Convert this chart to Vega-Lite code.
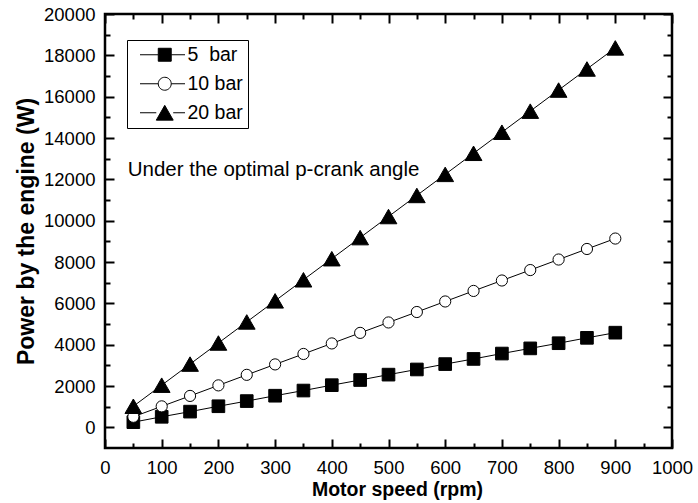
{
  "$schema": "https://vega.github.io/schema/vega-lite/v6.json",
  "width": 567,
  "height": 434,
  "autosize": {"type": "none"},
  "padding": {"left": 105, "top": 14, "right": 26, "bottom": 55},
  "background": "white",
  "config": {
    "view": {"stroke": "black", "strokeWidth": 2.5},
    "font": "Liberation Sans",
    "axis": {
      "grid": false,
      "domain": false,
      "tickColor": "black",
      "tickWidth": 2,
      "labelColor": "black",
      "labelFont": "Liberation Sans",
      "labelFontSize": 18.5,
      "labelFlush": false,
      "labelOverlap": false,
      "titleFont": "Liberation Sans",
      "titleFontSize": 19.5,
      "titleFontWeight": "bold",
      "titleColor": "black"
    }
  },
  "data": {
    "values": [
      {"rpm": 50, "p": "5 bar", "w": 250}, {"rpm": 100, "p": "5 bar", "w": 510}, {"rpm": 150, "p": "5 bar", "w": 760},
      {"rpm": 200, "p": "5 bar", "w": 1020}, {"rpm": 250, "p": "5 bar", "w": 1270}, {"rpm": 300, "p": "5 bar", "w": 1530},
      {"rpm": 350, "p": "5 bar", "w": 1780}, {"rpm": 400, "p": "5 bar", "w": 2040}, {"rpm": 450, "p": "5 bar", "w": 2290},
      {"rpm": 500, "p": "5 bar", "w": 2550}, {"rpm": 550, "p": "5 bar", "w": 2800}, {"rpm": 600, "p": "5 bar", "w": 3060},
      {"rpm": 650, "p": "5 bar", "w": 3310}, {"rpm": 700, "p": "5 bar", "w": 3570}, {"rpm": 750, "p": "5 bar", "w": 3820},
      {"rpm": 800, "p": "5 bar", "w": 4070}, {"rpm": 850, "p": "5 bar", "w": 4330}, {"rpm": 900, "p": "5 bar", "w": 4580},
      {"rpm": 50, "p": "10 bar", "w": 510}, {"rpm": 100, "p": "10 bar", "w": 1015}, {"rpm": 150, "p": "10 bar", "w": 1520},
      {"rpm": 200, "p": "10 bar", "w": 2030}, {"rpm": 250, "p": "10 bar", "w": 2540}, {"rpm": 300, "p": "10 bar", "w": 3045},
      {"rpm": 350, "p": "10 bar", "w": 3550}, {"rpm": 400, "p": "10 bar", "w": 4060}, {"rpm": 450, "p": "10 bar", "w": 4570},
      {"rpm": 500, "p": "10 bar", "w": 5075}, {"rpm": 550, "p": "10 bar", "w": 5580}, {"rpm": 600, "p": "10 bar", "w": 6090},
      {"rpm": 650, "p": "10 bar", "w": 6600}, {"rpm": 700, "p": "10 bar", "w": 7105}, {"rpm": 750, "p": "10 bar", "w": 7610},
      {"rpm": 800, "p": "10 bar", "w": 8120}, {"rpm": 850, "p": "10 bar", "w": 8630}, {"rpm": 900, "p": "10 bar", "w": 9135},
      {"rpm": 50, "p": "20 bar", "w": 1020}, {"rpm": 100, "p": "20 bar", "w": 2040}, {"rpm": 150, "p": "20 bar", "w": 3060},
      {"rpm": 200, "p": "20 bar", "w": 4080}, {"rpm": 250, "p": "20 bar", "w": 5100}, {"rpm": 300, "p": "20 bar", "w": 6120},
      {"rpm": 350, "p": "20 bar", "w": 7140}, {"rpm": 400, "p": "20 bar", "w": 8160}, {"rpm": 450, "p": "20 bar", "w": 9180},
      {"rpm": 500, "p": "20 bar", "w": 10200}, {"rpm": 550, "p": "20 bar", "w": 11220}, {"rpm": 600, "p": "20 bar", "w": 12240},
      {"rpm": 650, "p": "20 bar", "w": 13260}, {"rpm": 700, "p": "20 bar", "w": 14280}, {"rpm": 750, "p": "20 bar", "w": 15300},
      {"rpm": 800, "p": "20 bar", "w": 16320}, {"rpm": 850, "p": "20 bar", "w": 17340}, {"rpm": 900, "p": "20 bar", "w": 18360}
    ]
  },
  "resolve": {"axis": {"x": "independent", "y": "independent"}},
  "layer": [
    {
      "mark": {"type": "line", "color": "black", "strokeWidth": 1},
      "encoding": {
        "x": {
          "field": "rpm", "type": "quantitative",
          "scale": {"domain": [0, 1000], "nice": false, "zero": false},
          "axis": {
            "orient": "bottom",
            "title": "Motor speed (rpm)",
            "values": [0, 100, 200, 300, 400, 500, 600, 700, 800, 900, 1000],
            "format": "d",
            "tickSize": -9,
            "labelPadding": 19,
            "titleX": 292,
            "titleY": 47,
            "titleBaseline": "alphabetic"
          }
        },
        "y": {
          "field": "w", "type": "quantitative",
          "scale": {"domain": [-1000, 20000], "nice": false, "zero": false},
          "axis": {
            "orient": "left",
            "title": "Power by the engine (W)",
            "titleFontSize": 23,
            "values": [0, 2000, 4000, 6000, 8000, 10000, 12000, 14000, 16000, 18000, 20000],
            "format": "d",
            "tickSize": -9,
            "labelPadding": 19,
            "titleX": -72,
            "titleBaseline": "alphabetic"
          }
        },
        "detail": {"field": "p"}
      }
    },
    {
      "transform": [{"filter": "datum.p === '5 bar'"}],
      "mark": {"type": "point", "shape": "square", "filled": true, "fill": "black", "stroke": "black", "strokeWidth": 1, "size": 160, "opacity": 1},
      "encoding": {
        "x": {
          "field": "rpm", "type": "quantitative",
          "axis": {
            "orient": "bottom", "title": null, "labels": false,
            "values": [50, 150, 250, 350, 450, 550, 650, 750, 850, 950],
            "tickSize": -5
          }
        },
        "y": {
          "field": "w", "type": "quantitative",
          "axis": {
            "orient": "left", "title": null, "labels": false,
            "values": [1000, 3000, 5000, 7000, 9000, 11000, 13000, 15000, 17000, 19000],
            "tickSize": -5
          }
        }
      }
    },
    {
      "transform": [{"filter": "datum.p === '10 bar'"}],
      "mark": {"type": "point", "shape": "circle", "filled": true, "fill": "white", "stroke": "black", "strokeWidth": 1, "size": 125, "opacity": 1},
      "encoding": {
        "x": {
          "field": "rpm", "type": "quantitative",
          "axis": {
            "orient": "top", "title": null, "labels": false,
            "values": [0, 100, 200, 300, 400, 500, 600, 700, 800, 900, 1000],
            "tickSize": -9
          }
        },
        "y": {
          "field": "w", "type": "quantitative",
          "axis": {
            "orient": "right", "title": null, "labels": false,
            "values": [0, 2000, 4000, 6000, 8000, 10000, 12000, 14000, 16000, 18000, 20000],
            "tickSize": -9
          }
        }
      }
    },
    {
      "transform": [{"filter": "datum.p === '20 bar'"}],
      "mark": {"type": "point", "shape": "triangle-up", "filled": true, "fill": "black", "stroke": "black", "strokeWidth": 1, "size": 280, "opacity": 1},
      "encoding": {
        "x": {
          "field": "rpm", "type": "quantitative",
          "axis": {
            "orient": "top", "title": null, "labels": false,
            "values": [50, 150, 250, 350, 450, 550, 650, 750, 850, 950],
            "tickSize": -5
          }
        },
        "y": {
          "field": "w", "type": "quantitative",
          "axis": {
            "orient": "right", "title": null, "labels": false,
            "values": [1000, 3000, 5000, 7000, 9000, 11000, 13000, 15000, 17000, 19000],
            "tickSize": -5
          }
        }
      }
    },
    {
      "transform": [{"filter": "datum.rpm < 0"}],
      "mark": {"type": "point", "filled": true, "stroke": "black", "strokeWidth": 1, "size": 324, "opacity": 1},
      "encoding": {
        "x": {"field": "rpm", "type": "quantitative", "axis": null},
        "y": {"field": "w", "type": "quantitative", "axis": null},
        "shape": {
          "field": "p", "type": "nominal",
          "scale": {
            "domain": ["5 bar", "10 bar", "20 bar"],
            "range": [
              "M-2.75,0H-0.72M0.72,0H2.25M-0.72,-0.72H0.72V0.72H-0.72Z",
              "M-2.75,0H-0.72M0.72,0H2.25M0.72,0A0.72,0.72,0,1,1,-0.72,0A0.72,0.72,0,1,1,0.72,0Z",
              "M-2.75,0H-0.94M0.94,0H2.25M0,-0.82L0.94,0.82L-0.94,0.82Z"
            ]
          },
          "legend": {
            "title": null,
            "orient": "none",
            "legendX": 22,
            "legendY": 26,
            "strokeColor": "black",
            "padding": 5,
            "symbolSize": 324,
            "symbolOffset": 23,
            "labelOffset": 13,
            "rowPadding": 8,
            "symbolStrokeColor": "black",
            "symbolStrokeWidth": 1,
            "symbolOpacity": 1,
            "labelFont": "Liberation Sans",
            "labelFontSize": 19.5,
            "labelColor": "black",
            "labelExpr": "datum.label === '5 bar' ? '\u00a05\u00a0\u00a0bar' : datum.label",
            "encode": {"symbols": {"update": {"stroke": {"value": "black"}, "strokeWidth": {"value": 1}}}}
          }
        },
        "fill": {
          "field": "p", "type": "nominal",
          "scale": {"domain": ["5 bar", "10 bar", "20 bar"], "range": ["black", "white", "black"]},
          "legend": {
            "title": null,
            "orient": "none",
            "legendX": 22,
            "legendY": 26,
            "strokeColor": "black",
            "padding": 5,
            "symbolSize": 324,
            "symbolOffset": 23,
            "labelOffset": 13,
            "rowPadding": 8,
            "symbolStrokeColor": "black",
            "symbolStrokeWidth": 1,
            "symbolOpacity": 1,
            "labelFont": "Liberation Sans",
            "labelFontSize": 19.5,
            "labelColor": "black",
            "labelExpr": "datum.label === '5 bar' ? '\u00a05\u00a0\u00a0bar' : datum.label",
            "encode": {"symbols": {"update": {"stroke": {"value": "black"}, "strokeWidth": {"value": 1}}}}
          }
        }
      }
    },
    {
      "data": {"values": [{"x": 40, "y": 12450, "label": "Under the optimal p-crank angle"}]},
      "mark": {"type": "text", "align": "left", "baseline": "middle", "font": "Liberation Sans", "fontSize": 20.5, "color": "black"},
      "encoding": {
        "x": {"field": "x", "type": "quantitative", "axis": null},
        "y": {"field": "y", "type": "quantitative", "axis": null},
        "text": {"field": "label"}
      }
    }
  ]
}
